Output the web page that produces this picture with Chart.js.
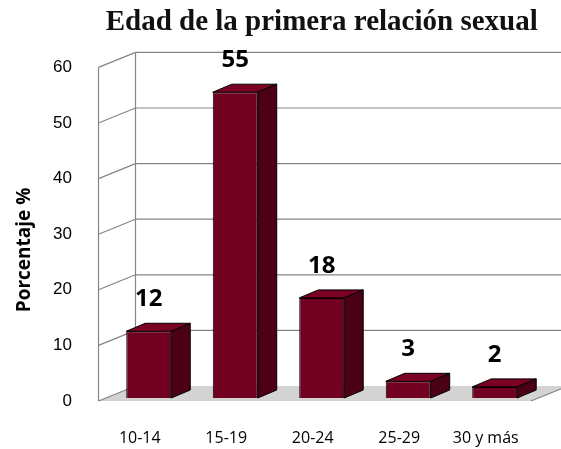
<!DOCTYPE html>
<html>
<head>
<meta charset="utf-8">
<script src="https://cdn.jsdelivr.net/npm/chart.js@4.4.1/dist/chart.umd.min.js"></script>
<style>
  html, body { margin: 0; padding: 0; background: #fff; }
</style>
</head>
<body>
<canvas id="chart" width="561" height="449"></canvas>
<script>
// Chart data
const categories = ['10-14', '15-19', '20-24', '25-29', '30 y más'];
const porcentajes = [12, 55, 18, 3, 2];
const yMin = 0;
const yMax = 60;
const yStep = 10;

// Fake 3D: offsets from the bar front plane
const floorFront = { dx: -7, dy: 3 };
const backWall = { dx: 30, dy: -12 };
const barDepth = { dx: 19, dy: -8 };

const gridColor = '#858585';

// Draws the walls, floor and grid lines behind the bars
const wallsPlugin = {
    id: 'walls',
    beforeDatasetsDraw(chart) {
        const ctx = chart.ctx;
        const area = chart.chartArea;
        const yScale = chart.scales.y;
        const y0 = yScale.getPixelForValue(yMin);
        const yTop = yScale.getPixelForValue(yMax);

        ctx.save();

        // floor
        ctx.fillStyle = '#d3d3d3';
        ctx.beginPath();
        ctx.moveTo(area.left + floorFront.dx, y0 + floorFront.dy);
        ctx.lineTo(area.right + floorFront.dx, y0 + floorFront.dy);
        ctx.lineTo(area.right + backWall.dx, y0 + backWall.dy);
        ctx.lineTo(area.left + backWall.dx, y0 + backWall.dy);
        ctx.closePath();
        ctx.fill();

        ctx.strokeStyle = gridColor;
        ctx.lineWidth = 1.2;

        // grid lines on the back wall and the side wall
        yScale.ticks.forEach(function(t) {
            const y = yScale.getPixelForValue(t.value);
            if (t.value > yMin) {
                ctx.beginPath();
                ctx.moveTo(area.left + backWall.dx, y + backWall.dy);
                ctx.lineTo(chart.width, y + backWall.dy);
                ctx.stroke();
            }
            ctx.beginPath();
            ctx.moveTo(area.left + floorFront.dx, y + floorFront.dy);
            ctx.lineTo(area.left + backWall.dx, y + backWall.dy);
            ctx.stroke();
        });

        // wall edges
        ctx.beginPath();
        ctx.moveTo(area.left + floorFront.dx, yTop + floorFront.dy);
        ctx.lineTo(area.left + floorFront.dx, y0 + floorFront.dy);
        ctx.moveTo(area.left + backWall.dx, yTop + backWall.dy);
        ctx.lineTo(area.left + backWall.dx, y0 + backWall.dy);
        // right edge of the floor
        ctx.moveTo(area.right + floorFront.dx, y0 + floorFront.dy);
        ctx.lineTo(area.right + backWall.dx, y0 + backWall.dy);
        ctx.stroke();

        // y axis title
        ctx.translate(25, 250);
        ctx.rotate(-Math.PI / 2);
        ctx.fillStyle = '#000';
        ctx.font = 'bold 19px "Open Sans"';
        ctx.textAlign = 'center';
        ctx.textBaseline = 'middle';
        ctx.fillText('Porcentaje %', 0, 0);

        ctx.restore();
    },
    afterDatasetsDraw(chart) {
        const ctx = chart.ctx;
        const meta = chart.getDatasetMeta(0);
        ctx.save();
        ctx.strokeStyle = '#000';
        ctx.lineWidth = 1;
        ctx.lineJoin = 'round';
        meta.data.forEach(function(bar, i) {
            const x1 = bar.x - bar.width / 2;
            const x2 = bar.x + bar.width / 2;
            const yt = bar.y;
            const yb = bar.base;

            // top face
            ctx.fillStyle = '#7a0024';
            ctx.beginPath();
            ctx.moveTo(x1, yt);
            ctx.lineTo(x2, yt);
            ctx.lineTo(x2 + barDepth.dx, yt + barDepth.dy);
            ctx.lineTo(x1 + barDepth.dx, yt + barDepth.dy);
            ctx.closePath();
            ctx.fill();
            ctx.stroke();

            // side face
            ctx.fillStyle = '#4c0016';
            ctx.beginPath();
            ctx.moveTo(x2, yt);
            ctx.lineTo(x2 + barDepth.dx, yt + barDepth.dy);
            ctx.lineTo(x2 + barDepth.dx, yb + barDepth.dy);
            ctx.lineTo(x2, yb);
            ctx.closePath();
            ctx.fill();
            ctx.stroke();

            // value label
            ctx.fillStyle = '#000';
            ctx.font = 'bold 24px "Open Sans"';
            ctx.textAlign = 'center';
            ctx.textBaseline = 'alphabetic';
            ctx.fillText(String(porcentajes[i]), bar.x, yt - 25);
        });
        ctx.restore();
    }
};

const ctx = document.getElementById('chart').getContext('2d');

new Chart(ctx, {
    type: 'bar',
    data: {
        labels: categories,
        datasets: [{
            data: porcentajes,
            backgroundColor: '#720020',
            borderColor: '#000',
            borderWidth: 1,
            barPercentage: 0.52,
            categoryPercentage: 1
        }]
    },
    options: {
        responsive: false,
        animation: false,
        devicePixelRatio: 1,
        layout: {
            padding: { left: 0, right: 20.5, top: 0, bottom: 0 }
        },
        plugins: {
            legend: { display: false },
            tooltip: { enabled: false },
            title: {
                display: true,
                fullSize: false,
                text: 'Edad de la primera relación sexual',
                color: '#111',
                font: { family: '"Liberation Serif"', size: 29, weight: 'bold' },
                padding: { top: 5, bottom: 24.6 }
            }
        },
        scales: {
            x: {
                grid: { display: false, drawTicks: false },
                border: { display: false },
                ticks: {
                    color: '#000',
                    font: { family: '"Open Sans"', size: 16 },
                    padding: 31,
                    labelOffset: -9,
                    maxRotation: 0,
                    autoSkip: false
                },
                afterFit(scale) { scale.height = 51; }
            },
            y: {
                min: yMin,
                max: yMax,
                grid: { display: false, drawTicks: false },
                border: { display: false },
                ticks: {
                    stepSize: yStep,
                    color: '#000',
                    font: { family: '"Liberation Sans"', size: 17 },
                    padding: 33.5,
                    labelOffset: 3
                },
                afterFit(scale) { scale.width = 105.5; }
            }
        }
    },
    plugins: [wallsPlugin]
});
</script>
</body>
</html>
